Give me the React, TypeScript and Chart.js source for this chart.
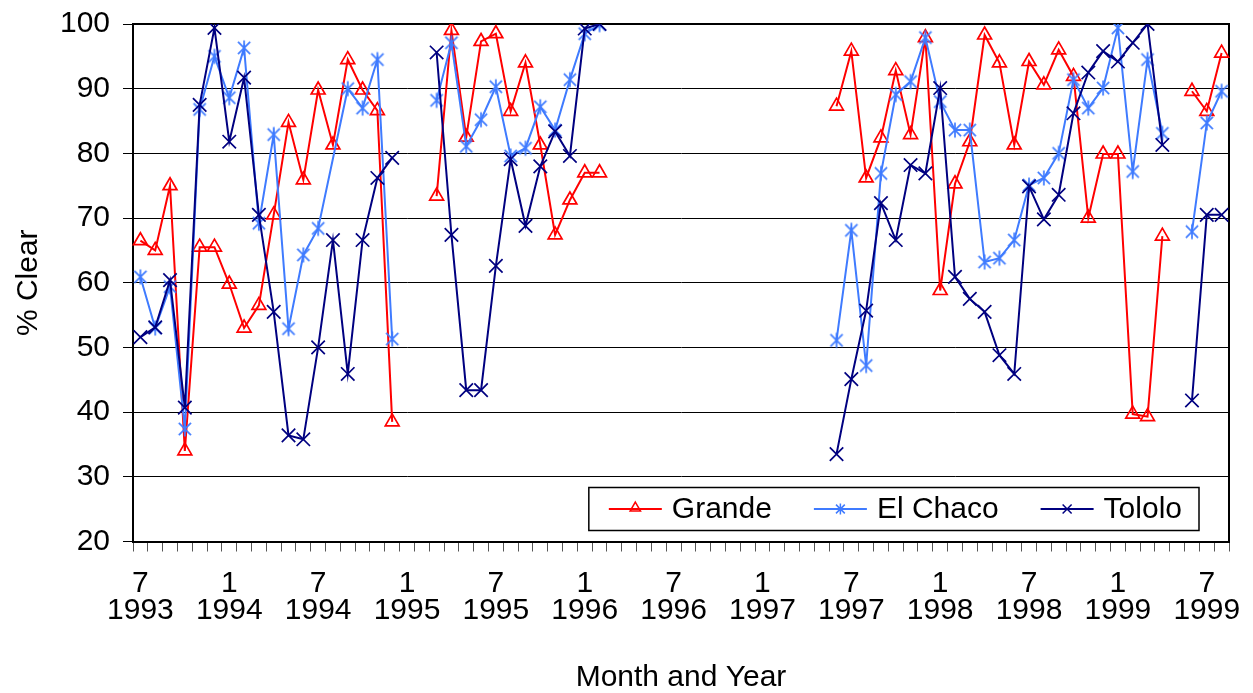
import React, { useEffect, useRef } from 'react';
import { Chart, registerables } from 'chart.js';

Chart.register(...registerables);

// ---- Data -----------------------------------------------------------------
// 74 monthly categories: July 1993 .. August 1999
const START_YEAR = 1993;
const START_MONTH_INDEX = 6; // July (0-based)
const MONTH_COUNT = 74;
const categories: string[] = Array.from({ length: MONTH_COUNT }, (_, i) => {
  const m = ((START_MONTH_INDEX + i) % 12) + 1;
  const y = START_YEAR + Math.floor((START_MONTH_INDEX + i) / 12);
  return `${m}/${y}`;
});
const TICK_EVERY = 6;

// % clear per month (null = no data)
const grande: (number | null)[] = [
  // 1993 Jul-Dec
  66.5, 65.0, 75.0, 34.0, 65.5, 65.5,
  // 1994
  59.8, 53.0, 56.5, 70.5, 84.8, 75.9, 89.8, 81.3, 94.5, 89.8, 86.6, 38.5,
  // 1995
  null, null, 73.4, 99.0, 82.5, 97.3, 98.5, 86.5, 94.0, 81.3, 67.4, 72.8,
  // 1996
  77.0, 77.0, null, null, null, null, null, null, null, null, null, null,
  // 1997
  null, null, null, null, null, 87.3, 95.8, 76.2, 82.4, 92.8, 82.9, 97.9,
  // 1998
  58.8, 75.3, 81.8, 98.3, 94.0, 81.3, 94.2, 90.6, 96.0, 91.9, 70.0, 79.9,
  // 1999 Jan-Aug
  79.9, 39.7, 39.3, 67.2, null, 89.6, 86.5, 95.5,
];

const elChaco: (number | null)[] = [
  60.9, 53.0, 59.4, 37.4, 86.8, 95.0,
  88.6, 96.3, 69.2, 82.9, 52.9, 64.3, 68.4, null, 90.0, 87.0, 94.5, 51.3,
  null, null, 88.2, 97.1, 81.1, 85.2, 90.3, 79.6, 80.8, 87.2, 83.6, 91.4,
  98.5, 99.9, null, null, null, null, null, null, null, null, null, null,
  null, null, null, null, null, 51.1, 68.1, 47.2, 76.9, 89.1, 91.1, 97.9,
  88.0, 83.6, 83.6, 63.2, 63.8, 66.6, 75.1, 76.2, 80.0, 91.4, 87.0, 90.1,
  99.4, 77.2, 94.5, 83.1, null, 67.9, 84.7, 89.6,
];
// missing months across which the El Chaco line is still drawn
const elChacoBridgedGaps = [13];

const tololo: (number | null)[] = [
  51.6, 53.1, 60.4, 40.7, 87.5, 99.4,
  81.8, 91.7, 70.5, 55.5, 36.4, 35.8, 50.0, 66.6, 45.9, 66.6, 76.2, 79.3,
  null, null, 95.6, 67.4, 43.4, 43.4, 62.6, 79.1, 68.8, 78.0, 83.4, 79.6,
  99.3, 100.0, null, null, null, null, null, null, null, null, null, null,
  null, null, null, null, null, 33.5, 45.1, 55.7, 72.3, 66.6, 78.2, 76.9,
  90.1, 60.9, 57.5, 55.5, 48.8, 45.9, 74.9, 69.8, 73.6, 86.2, 92.5, 95.8,
  94.2, 97.1, 100.0, 81.3, null, 41.8, 70.5, 70.5,
];

const seriesNames = ['Grande', 'El Chaco', 'Tololo'];
const Y_MIN = 20;
const Y_MAX = 100;
const Y_STEP = 10;

// ---- Styles ---------------------------------------------------------------
const RED = '#FF0000';
const BLUE = '#3F7BFF';
const NAVY = '#000080';
const FONT_FAMILY = '"Liberation Sans", Arial, Helvetica, sans-serif';
const FONT_SIZE = 30;

function drawAsterisk(g: CanvasRenderingContext2D, cx: number, cy: number, r: number) {
  const d = r * 0.8;
  g.beginPath();
  g.moveTo(cx, cy - r);
  g.lineTo(cx, cy + r);
  g.moveTo(cx - d, cy - d);
  g.lineTo(cx + d, cy + d);
  g.moveTo(cx + d, cy - d);
  g.lineTo(cx - d, cy + d);
  g.stroke();
}

function drawTriangle(g: CanvasRenderingContext2D, cx: number, cy: number, r: number) {
  g.beginPath();
  g.moveTo(cx, cy - r);
  g.lineTo(cx + r * 0.866, cy + r * 0.5);
  g.lineTo(cx - r * 0.866, cy + r * 0.5);
  g.closePath();
  g.stroke();
}

function drawX(g: CanvasRenderingContext2D, cx: number, cy: number, r: number) {
  g.beginPath();
  g.moveTo(cx - r, cy - r);
  g.lineTo(cx + r, cy + r);
  g.moveTo(cx + r, cy - r);
  g.lineTo(cx - r, cy + r);
  g.stroke();
}

function makeAsteriskImage(color: string): HTMLCanvasElement {
  const size = 18;
  const c = document.createElement('canvas');
  c.width = size;
  c.height = size;
  const g = c.getContext('2d')!;
  g.strokeStyle = color;
  g.lineWidth = 1.7;
  drawAsterisk(g, size / 2, size / 2, 7.6);
  return c;
}

const framePlugin = {
  id: 'plotFrame',
  beforeDatasetsDraw(chart: any) {
    const { ctx, chartArea } = chart;
    ctx.save();
    ctx.strokeStyle = '#000';
    ctx.lineWidth = 2;
    ctx.beginPath();
    ctx.moveTo(chartArea.left, chartArea.top);
    ctx.lineTo(chartArea.right, chartArea.top);
    ctx.lineTo(chartArea.right, chartArea.bottom);
    ctx.stroke();
    ctx.restore();
  },
};

const legendPlugin = {
  id: 'insideLegend',
  afterDatasetsDraw(chart: any) {
    const { ctx, chartArea } = chart;
    ctx.save();
    ctx.font = `${FONT_SIZE}px ${FONT_FAMILY}`;
    const padL = 20;
    const padR = 17;
    const lineLen = 53;
    const textGap = 10;
    const itemGap = 42;
    const boxH = 43;
    const ds = chart.data.datasets;
    const widths = ds.map((d: any) => ctx.measureText(d.label).width);
    let total = padL + padR + itemGap * (ds.length - 1);
    widths.forEach((w: number) => (total += lineLen + textGap + w));
    const boxRight = chartArea.right - 30;
    const boxBottom = chartArea.bottom - 11;
    const boxLeft = boxRight - total;
    const boxTop = boxBottom - boxH;
    ctx.fillStyle = '#fff';
    ctx.fillRect(boxLeft, boxTop, total, boxH);
    ctx.strokeStyle = '#000';
    ctx.lineWidth = 1.5;
    ctx.strokeRect(boxLeft, boxTop, total, boxH);
    const midY = boxTop + boxH / 2;
    let x = boxLeft + padL;
    ds.forEach((d: any, i: number) => {
      ctx.strokeStyle = d.borderColor;
      ctx.lineWidth = 2;
      ctx.beginPath();
      ctx.moveTo(x, midY);
      ctx.lineTo(x + lineLen, midY);
      ctx.stroke();
      const mx = x + lineLen / 2;
      ctx.lineWidth = 1.5;
      if (i === 0) drawTriangle(ctx, mx, midY - 1, 6);
      else if (i === 1) drawAsterisk(ctx, mx, midY, 5.5);
      else drawX(ctx, mx, midY, 4.5);
      ctx.fillStyle = '#000';
      ctx.textBaseline = 'middle';
      ctx.textAlign = 'left';
      ctx.fillText(d.label, x + lineLen + textGap, midY + 1);
      x += lineLen + textGap + widths[i] + itemGap;
    });
    ctx.restore();
  },
};

export default function App() {
  const canvasRef = useRef<HTMLCanvasElement | null>(null);

  useEffect(() => {
    if (!canvasRef.current) return;
    const starImg = makeAsteriskImage(BLUE);
    const tickFont = { family: FONT_FAMILY, size: FONT_SIZE };

    const chart = new Chart(canvasRef.current, {
      type: 'line',
      data: {
        labels: categories,
        datasets: [
          {
            label: seriesNames[0],
            data: grande,
            borderColor: RED,
            backgroundColor: RED,
            borderWidth: 2,
            pointStyle: 'triangle',
            pointRadius: 8,
            pointBorderColor: RED,
            pointBackgroundColor: 'rgba(0,0,0,0)',
            pointBorderWidth: 1.7,
            spanGaps: false,
            tension: 0,
            order: 3,
          },
          {
            label: seriesNames[1],
            data: elChaco,
            borderColor: BLUE,
            backgroundColor: BLUE,
            borderWidth: 2,
            pointStyle: starImg as any,
            pointRadius: 8,
            spanGaps: true,
            segment: {
              borderColor: (ctx: any) => {
                if (!(ctx.p0.skip || ctx.p1.skip)) return undefined;
                const missing = ctx.p0.skip ? ctx.p0DataIndex : ctx.p1DataIndex;
                return elChacoBridgedGaps.includes(missing) ? undefined : 'rgba(0,0,0,0)';
              },
            },
            tension: 0,
            order: 2,
          },
          {
            label: seriesNames[2],
            data: tololo,
            borderColor: NAVY,
            backgroundColor: NAVY,
            borderWidth: 2,
            pointStyle: 'crossRot',
            pointRadius: 9.5,
            pointBorderColor: NAVY,
            pointBorderWidth: 1.7,
            spanGaps: false,
            tension: 0,
            order: 1,
          },
        ] as any,
      },
      options: {
        animation: false,
        responsive: true,
        maintainAspectRatio: false,
        events: [],
        layout: { padding: { top: 24, right: 24, left: 0, bottom: 0 } },
        plugins: {
          legend: { display: false },
          tooltip: { enabled: false },
        },
        scales: {
          x: {
            type: 'category',
            offset: true,
            grid: {
              offset: true,
              drawOnChartArea: false,
              drawTicks: true,
              tickLength: 10,
              color: '#000',
              tickColor: '#555',
              tickWidth: 1,
            },
            border: { display: true, color: '#000', width: 2 },
            ticks: {
              autoSkip: false,
              maxRotation: 0,
              minRotation: 0,
              padding: 19,
              color: '#000',
              font: { ...tickFont, lineHeight: 0.9 },
              callback: (_v: any, index: number) =>
                index % TICK_EVERY === 0 ? categories[index].split('/') : '',
            },
            title: {
              display: true,
              text: 'Month and Year',
              color: '#000',
              font: { ...tickFont, lineHeight: 1 },
              padding: { top: 0, bottom: 0 },
            },
            afterFit: (scale: any) => {
              scale.height = 151.5;
              scale.paddingLeft = 0;
              scale.paddingRight = 0;
            },
          },
          y: {
            min: Y_MIN,
            max: Y_MAX,
            grid: {
              color: '#000',
              lineWidth: 1,
              tickLength: 10,
              tickColor: '#000',
            },
            border: { display: true, color: '#000', width: 2 },
            ticks: {
              stepSize: Y_STEP,
              padding: 13,
              color: '#000',
              font: tickFont,
            },
            title: {
              display: true,
              text: '% Clear',
              color: '#000',
              font: { ...tickFont, lineHeight: 1 },
              padding: { top: 14, bottom: 0 },
            },
            afterFit: (scale: any) => {
              scale.width = 133;
              scale.paddingTop = 0;
              scale.paddingBottom = 0;
            },
          },
        },
      } as any,
      plugins: [framePlugin, legendPlugin],
    });

    return () => chart.destroy();
  }, []);

  return (
    <div
      style={{
        position: 'fixed',
        left: 0,
        top: 0,
        width: 1253,
        height: 693,
        background: '#fff',
      }}
    >
      <canvas ref={canvasRef} />
    </div>
  );
}
